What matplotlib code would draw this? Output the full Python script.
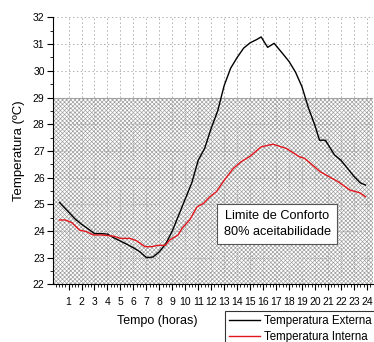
import matplotlib
matplotlib.use("Agg")
import matplotlib.pyplot as plt
from matplotlib.patches import Rectangle
from matplotlib.ticker import MultipleLocator
from matplotlib.lines import Line2D

plt.rcParams['font.family'] = ['Liberation Sans', 'DejaVu Sans']
plt.rcParams['hatch.linewidth'] = 0.45
plt.rcParams['hatch.color'] = '#a8a8a8'

ext_hours = [0.3, 1.0, 1.5, 2.0, 2.5, 3.0, 3.5, 4.0, 4.5, 5.0, 5.5, 6.0, 6.5, 7.0,
             7.5, 8.0, 8.5, 9.0, 9.5, 10.0, 10.5, 11.0, 11.5, 12.0, 12.5, 13.0,
             13.5, 14.0, 14.5, 15.0, 15.5, 15.85, 16.35, 16.85, 17.5, 18.0, 18.5,
             19.0, 19.5, 20.0, 20.35, 20.8, 21.5, 22.0, 22.5, 23.0, 23.5, 23.9]
ext_temp = [25.07, 24.71, 24.45, 24.25, 24.08, 23.9, 23.9, 23.88, 23.74, 23.62,
            23.5, 23.37, 23.22, 23.0, 23.02, 23.22, 23.52, 24.0, 24.6, 25.2,
            25.8, 26.65, 27.1, 27.85, 28.5, 29.45, 30.1, 30.5, 30.85, 31.05,
            31.17, 31.27, 30.88, 31.03, 30.65, 30.35, 29.95, 29.4, 28.6, 27.95,
            27.4, 27.4, 26.85, 26.65, 26.35, 26.05, 25.8, 25.72]

int_hours = [0.3, 0.75, 1.25, 1.85, 2.4, 2.9, 3.5, 4.0, 4.5, 5.0, 5.75, 6.25,
             6.9, 7.4, 7.9, 8.45, 8.8, 9.45, 9.75, 10.35, 10.9, 11.4, 11.9,
             12.4, 13.0, 13.7, 14.3, 15.0, 15.85, 16.75, 17.8, 18.8, 19.2,
             20.4, 21.8, 22.7, 23.45, 23.9]
int_temp = [24.41, 24.41, 24.31, 24.03, 23.97, 23.85, 23.85, 23.83, 23.8, 23.72,
            23.72, 23.63, 23.41, 23.41, 23.46, 23.46, 23.66, 23.85, 24.1, 24.42,
            24.9, 25.03, 25.28, 25.47, 25.9, 26.34, 26.59, 26.8, 27.15, 27.25,
            27.09, 26.78, 26.72, 26.22, 25.84, 25.53, 25.43, 25.28]

comfort_limit = 29
x_ticks = list(range(1, 25))
y_ticks = list(range(22, 33))

fig = plt.figure(figsize=(3.74, 3.42), dpi=100)
ax = fig.add_axes([0.1417, 0.1687, 0.8548, 0.7803])
ax.set_xlim(-0.2, 24.45)
ax.set_ylim(22, 32)

# comfort region
rect = Rectangle((-0.2, 22), 24.65, comfort_limit - 22, facecolor='white',
                 edgecolor='#9a9a9a', hatch='xxxxxxxx', linewidth=0.8, zorder=1)
ax.add_patch(rect)

ax.grid(True, which='major', color='#b0b0b0', linestyle=(0, (1.5, 2.5)), linewidth=0.7, zorder=2)
ax.set_axisbelow(False)

ax.plot(ext_hours, ext_temp, color='black', linewidth=1.0, zorder=3)
ax.plot(int_hours, int_temp, color='#e3161d', linewidth=1.0, zorder=3)

ax.set_xticks(x_ticks)
ax.set_yticks(y_ticks)
ax.xaxis.set_minor_locator(MultipleLocator(0.25))
ax.yaxis.set_minor_locator(MultipleLocator(0.5))
ax.tick_params(which='major', direction='out', length=4, width=0.8, labelsize=7.5, pad=2)
ax.tick_params(which='minor', direction='out', length=2, width=0.6)
ax.tick_params(axis='x', pad=5)

for s in ['top', 'right']:
    ax.spines[s].set_visible(False)
for s in ['left', 'bottom']:
    ax.spines[s].set_linewidth(0.8)
    ax.spines[s].set_zorder(5)

ax.set_ylabel('Temperatura (ºC)', fontsize=9.5, labelpad=6)
fig.text(0.42, 0.06, 'Tempo (horas)', fontsize=9, ha='center', va='center')

ax.text(17.1, 24.25, 'Limite de Conforto\n80% aceitabilidade', fontsize=9.2,
        ha='center', va='center', linespacing=1.4, zorder=6,
        bbox=dict(boxstyle='square,pad=0.5', facecolor='white', edgecolor='#555555', linewidth=0.8))

handles = [Line2D([], [], color='black', linewidth=1.0),
           Line2D([], [], color='#e3161d', linewidth=1.0)]
leg = fig.legend(handles, ['Temperatura Externa', 'Temperatura Interna'],
                 loc='upper left', bbox_to_anchor=(0.602, 0.092), fontsize=8.3,
                 frameon=True, fancybox=False, edgecolor='black', handlelength=2.7,
                 handletextpad=0.35, borderpad=0.35, labelspacing=0.4, borderaxespad=0)
leg.get_frame().set_linewidth(0.8)

fig.savefig('out.png', dpi=100)
